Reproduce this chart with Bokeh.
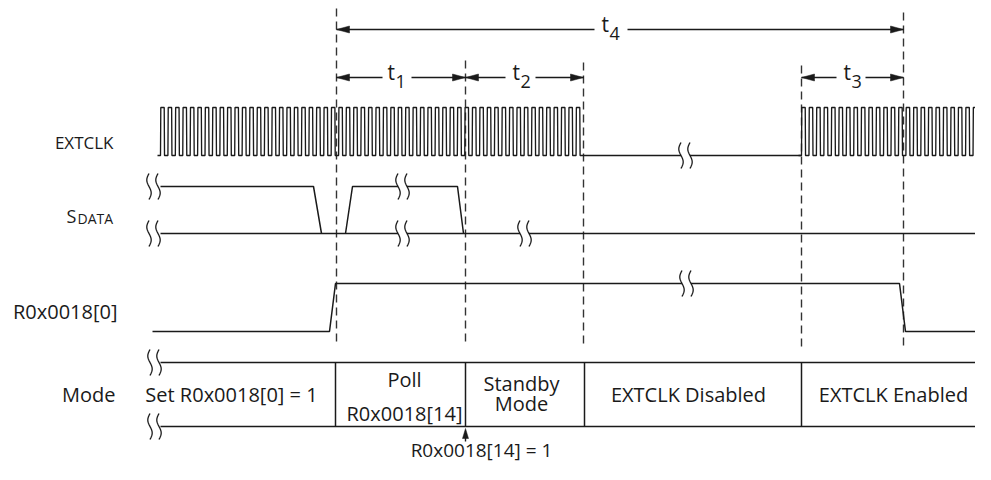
import numpy as np
from bokeh.plotting import figure
from bokeh.models import Range1d
from bokeh.core.properties import value
from bokeh.embed import file_html
from bokeh.resources import INLINE

FONT = "Open Sans"

# ---------------- data (diagram time units / signal levels) ----------------
marker_x = [336, 465, 583, 801, 903]
marker_top = [8, 60, 62, 65, 12]
marker_bottom = [344, 344, 347, 347, 349]

interval_sub = ["1", "2", "3", "4"]
interval_start = [336, 465, 801, 336]
interval_end = [465, 583, 903, 903]
interval_level = [77, 77, 77, 29]
interval_label_x = [387, 512, 843, 601]
interval_gap_left = [382, 505, 836, 594]
interval_gap_right = [411, 535, 865, 627]

# EXTCLK
clk_burst_start = [160, 801]
clk_burst_end = [583, 980]
clk_period = 7.43
clk_high = 107
clk_low = 155
clk_idle_x = [583, 801]

# SDATA
sdata_high = 186
sdata_low = 233
sdata_x = [[160, 313, 321], [345, 352, 457, 463], [160, 991]]
sdata_state = [[1, 1, 0], [0, 1, 1, 0], [0, 0]]

# R0x0018[0]
reg_high = 283
reg_low = 331
reg_x = [152, 329, 335, 899, 905, 975]
reg_state = [0, 0, 1, 1, 0, 0]

# Mode row
mode_top = 362
mode_bottom = 426
mode_start = 160
mode_end = 991
mode_dividers = [335, 465, 584, 801]
mode_text = ["Set R0x0018[0] = 1", "Poll", "R0x0018[14]", "Standby", "Mode",
             "EXTCLK Disabled", "EXTCLK Enabled"]
mode_text_x = [231, 404, 404, 521, 521, 688, 893]
mode_text_y = [402, 387, 421, 391, 411, 402, 402]   # baselines

# signal names
sig_names = ["EXTCLK", "R0x0018[0]", "Mode"]
sig_name_x = [113, 117, 115]
sig_name_y = [149, 319, 402]
sig_name_size = [17, 20, 20]

# breaks (x, y, erase-line?)
break_x = [685, 153, 153, 402, 402, 524, 686, 154, 154]
break_y = [155, 186, 233, 186, 233, 233, 283, 362, 426]
break_erase = [1, 0, 0, 1, 1, 1, 1, 0, 0]

# event annotation
event_x = 465
event_label = "R0x0018[14] = 1"


def mid(baseline, fs):
    """vertical centre for text_baseline='middle' from an alphabetic baseline"""
    return baseline - 0.39 * fs


# ---------------- figure ----------------
p = figure(width=975, height=464, x_range=Range1d(0, 975), y_range=Range1d(464, 0),
           output_backend="svg", toolbar_location=None, min_border=0,
           x_axis_location=None, y_axis_location=None)
p.grid.visible = False
p.outline_line_color = None
p.background_fill_color = "white"
p.border_fill_color = "white"

LW = 1.5
INK = "#1a1a1a"


def label(xs, ys, texts, fs, align):
    p.text(x=xs, y=[mid(y, fs) for y in ys], text=texts, text_font=value(FONT),
           text_font_size=f"{fs}px", text_align=align, text_baseline="middle",
           text_color=INK)


# dashed markers
p.segment(x0=marker_x, y0=marker_top, x1=marker_x, y1=marker_bottom,
          line_color="#333333", line_width=1.4, line_dash="8 5")

# interval arrows
hl, hw = 13, 3.5
seg_x0, seg_x1, seg_y = [], [], []
heads_x, heads_y = [], []
for s, e, y, gl, gr in zip(interval_start, interval_end, interval_level,
                           interval_gap_left, interval_gap_right):
    seg_x0 += [s, gr]
    seg_x1 += [gl, e]
    seg_y += [y, y]
    heads_x += [[s, s + hl, s + hl], [e, e - hl, e - hl]]
    heads_y += [[y, y - hw, y + hw], [y, y - hw, y + hw]]
p.segment(x0=seg_x0, y0=seg_y, x1=seg_x1, y1=seg_y, line_color=INK, line_width=1.4)
p.patches(xs=heads_x, ys=heads_y, fill_color=INK, line_color=INK, line_width=0.5)
label(interval_label_x, [y + 3 for y in interval_level], ["t"] * 4, 21, "left")
label([x + 8 for x in interval_label_x], [y + 11 for y in interval_level],
      interval_sub, 18, "left")

# EXTCLK waveform
for s, e in zip(clk_burst_start, clk_burst_end):
    n = int(round((e - s) / clk_period))
    per = (e - s) / n
    xs = [s - 3]
    ys = [clk_low]
    for k in range(n):
        x0 = s + k * per
        xs += [x0, x0 + 0.3, x0 + per * 0.5, x0 + per * 0.5 + 0.3]
        ys += [clk_low, clk_high, clk_high, clk_low]
    xs.append(e)
    ys.append(clk_low)
    p.line(xs, ys, line_color=INK, line_width=1.35)
p.line(clk_idle_x, [clk_low, clk_low], line_color=INK, line_width=LW)

# SDATA
p.multi_line(xs=sdata_x,
             ys=[[sdata_high if v else sdata_low for v in st] for st in sdata_state],
             line_color=INK, line_width=LW)

# R0x0018[0]
p.line(reg_x, [reg_high if v else reg_low for v in reg_state], line_color=INK, line_width=LW)

# Mode row
p.segment(x0=[mode_start, mode_start], y0=[mode_top, mode_bottom],
          x1=[mode_end, mode_end], y1=[mode_top, mode_bottom], line_color=INK, line_width=LW)
p.segment(x0=mode_dividers, y0=[mode_top] * 4, x1=mode_dividers, y1=[mode_bottom] * 4,
          line_color=INK, line_width=LW)
label(mode_text_x, mode_text_y, mode_text, 20, "center")

# breaks
gap = 4.5
h = 13
tt = np.linspace(-1, 1, 25)
bx, by = [], []
ex, ey = [], []
for x, y, er in zip(break_x, break_y, break_erase):
    for off in (-gap, gap):
        bx.append(list(x + off + 2.2 * np.sin(np.pi * tt)))
        by.append(list(y + h * tt))
    if er:
        ex.append([x - gap, x + gap, x + gap, x - gap])
        ey.append([y - 3, y - 3, y + 3, y + 3])
p.patches(xs=ex, ys=ey, fill_color="white", line_color=None)
p.multi_line(xs=bx, ys=by, line_color=INK, line_width=1.3)

# signal names
for nm, x, y, fs in zip(sig_names, sig_name_x, sig_name_y, sig_name_size):
    label([x], [y], [nm], fs, "right")
label([66], [223], ["S"], 18, "left")
label([77], [223], ["DATA"], 14, "left")

# event arrow
p.segment(x0=[event_x], y0=[441], x1=[event_x], y1=[434], line_color=INK, line_width=1.4)
p.patches(xs=[[event_x, event_x - 3, event_x + 3]], ys=[[428, 438, 438]],
          fill_color=INK, line_color=INK, line_width=0.5)
label([481], [457], [event_label], 19, "center")

open("out.html", "w").write(file_html(p, INLINE))
